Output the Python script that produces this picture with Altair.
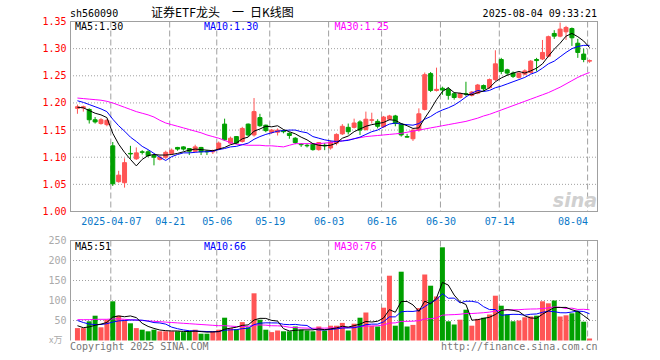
import altair as alt
import pandas as pd

# ---------------- data ----------------
dates = ["03-27", "03-28", "03-31",
         "04-01", "04-02", "04-03", "04-07", "04-08", "04-09", "04-10", "04-11",
         "04-14", "04-15", "04-16", "04-17", "04-18", "04-21", "04-22", "04-23", "04-24", "04-25",
         "04-28", "04-29", "04-30",
         "05-06", "05-07", "05-08", "05-09", "05-12", "05-13", "05-14", "05-15", "05-16",
         "05-19", "05-20", "05-21", "05-22", "05-23", "05-26", "05-27", "05-28", "05-29", "05-30",
         "06-03", "06-04", "06-05", "06-06", "06-09", "06-10", "06-11", "06-12", "06-13",
         "06-16", "06-17", "06-18", "06-19", "06-20", "06-23", "06-24", "06-25", "06-26", "06-27", "06-30",
         "07-01", "07-02", "07-03", "07-04", "07-07", "07-08", "07-09", "07-10", "07-11",
         "07-14", "07-15", "07-16", "07-17", "07-18", "07-21", "07-22", "07-23", "07-24", "07-25",
         "07-28", "07-29", "07-30", "07-31", "08-01", "08-04"]

opens = [1.190, 1.191, 1.188, 1.169, 1.162, 1.160, 1.121, 1.055, 1.053, 1.107,
         1.097, 1.110, 1.110, 1.103, 1.096, 1.100, 1.107, 1.118, 1.119, 1.116,
         1.111, 1.118, 1.111, 1.110, 1.115, 1.161, 1.126, 1.138, 1.129, 1.161,
         1.141, 1.173, 1.159, 1.146, 1.146, 1.149, 1.144, 1.135, 1.124, 1.122,
         1.124, 1.114, 1.122, 1.117, 1.126, 1.143, 1.155, 1.155, 1.165, 1.151,
         1.168, 1.166, 1.156, 1.170, 1.176, 1.161, 1.138, 1.134, 1.150, 1.188,
         1.254, 1.223, 1.227, 1.225, 1.217, 1.210, 1.217, 1.214, 1.218, 1.232,
         1.228, 1.243, 1.280, 1.261, 1.255, 1.247, 1.253, 1.256, 1.280, 1.281,
         1.286, 1.328, 1.323, 1.331, 1.337, 1.310, 1.290, 1.277]
highs = [1.197, 1.195, 1.190, 1.174, 1.172, 1.170, 1.128, 1.075, 1.098, 1.121,
         1.118, 1.113, 1.113, 1.104, 1.103, 1.112, 1.116, 1.119, 1.120, 1.117,
         1.123, 1.119, 1.113, 1.114, 1.129, 1.171, 1.138, 1.139, 1.156, 1.162,
         1.209, 1.180, 1.160, 1.152, 1.153, 1.151, 1.146, 1.137, 1.126, 1.125,
         1.126, 1.128, 1.126, 1.131, 1.144, 1.161, 1.162, 1.171, 1.168, 1.184,
         1.182, 1.170, 1.176, 1.178, 1.178, 1.163, 1.143, 1.151, 1.190, 1.256,
         1.257, 1.265, 1.230, 1.229, 1.220, 1.219, 1.239, 1.222, 1.235, 1.234,
         1.245, 1.297, 1.283, 1.263, 1.258, 1.256, 1.262, 1.279, 1.283, 1.316,
         1.324, 1.334, 1.348, 1.342, 1.339, 1.318, 1.300, 1.280]
lows = [1.180, 1.184, 1.162, 1.162, 1.160, 1.157, 1.047, 1.053, 1.044, 1.097,
        1.095, 1.105, 1.100, 1.085, 1.094, 1.097, 1.104, 1.112, 1.112, 1.104,
        1.110, 1.104, 1.104, 1.106, 1.113, 1.130, 1.124, 1.124, 1.127, 1.138,
        1.138, 1.156, 1.146, 1.143, 1.140, 1.144, 1.134, 1.124, 1.119, 1.118,
        1.112, 1.112, 1.113, 1.114, 1.122, 1.141, 1.142, 1.153, 1.141, 1.149,
        1.162, 1.153, 1.154, 1.168, 1.157, 1.138, 1.136, 1.130, 1.147, 1.186,
        1.220, 1.221, 1.215, 1.206, 1.206, 1.208, 1.212, 1.212, 1.216, 1.222,
        1.226, 1.240, 1.253, 1.250, 1.246, 1.245, 1.251, 1.254, 1.258, 1.279,
        1.284, 1.318, 1.321, 1.316, 1.305, 1.283, 1.275, 1.274]
closes = [1.193, 1.193, 1.169, 1.165, 1.169, 1.168, 1.051, 1.067, 1.090, 1.106,
          1.108, 1.109, 1.103, 1.100, 1.100, 1.109, 1.113, 1.115, 1.115, 1.111,
          1.119, 1.110, 1.110, 1.112, 1.126, 1.132, 1.135, 1.126, 1.153, 1.141,
          1.184, 1.158, 1.149, 1.150, 1.150, 1.147, 1.140, 1.127, 1.123, 1.121,
          1.114, 1.127, 1.121, 1.128, 1.142, 1.157, 1.147, 1.163, 1.150, 1.170,
          1.169, 1.157, 1.174, 1.176, 1.162, 1.141, 1.137, 1.150, 1.180, 1.252,
          1.223, 1.225, 1.224, 1.214, 1.210, 1.217, 1.216, 1.220, 1.233, 1.226,
          1.243, 1.272, 1.258, 1.255, 1.249, 1.255, 1.259, 1.277, 1.278, 1.293,
          1.322, 1.323, 1.336, 1.339, 1.320, 1.293, 1.280, 1.278]

ma5 = [1.192, 1.191, 1.186, 1.181, 1.178, 1.173, 1.144, 1.124, 1.109, 1.096,
       1.084, 1.096, 1.103, 1.105, 1.104, 1.104, 1.105, 1.107, 1.110, 1.113,
       1.115, 1.114, 1.113, 1.112, 1.115, 1.118, 1.123, 1.126, 1.134, 1.137,
       1.148, 1.152, 1.157, 1.156, 1.158, 1.151, 1.147, 1.143, 1.137, 1.132,
       1.125, 1.122, 1.121, 1.122, 1.126, 1.135, 1.139, 1.147, 1.152, 1.157,
       1.160, 1.162, 1.164, 1.169, 1.168, 1.162, 1.158, 1.153, 1.154, 1.172,
       1.188, 1.206, 1.221, 1.228, 1.219, 1.218, 1.216, 1.215, 1.219, 1.222,
       1.228, 1.239, 1.246, 1.251, 1.255, 1.258, 1.255, 1.259, 1.264, 1.272,
       1.286, 1.299, 1.310, 1.323, 1.328, 1.322, 1.314, 1.302]
ma10 = [1.204, 1.201, 1.197, 1.193, 1.189, 1.184, 1.170, 1.158, 1.148, 1.137,
        1.129, 1.120, 1.114, 1.107, 1.100, 1.094, 1.101, 1.105, 1.108, 1.108,
        1.109, 1.110, 1.110, 1.111, 1.114, 1.116, 1.119, 1.120, 1.123, 1.126,
        1.133, 1.138, 1.142, 1.145, 1.148, 1.149, 1.150, 1.150, 1.147, 1.145,
        1.138, 1.135, 1.132, 1.130, 1.129, 1.130, 1.131, 1.134, 1.137, 1.142,
        1.147, 1.150, 1.156, 1.161, 1.163, 1.161, 1.160, 1.159, 1.162, 1.170,
        1.175, 1.182, 1.187, 1.191, 1.196, 1.203, 1.211, 1.218, 1.223, 1.221,
        1.223, 1.228, 1.231, 1.235, 1.239, 1.243, 1.247, 1.253, 1.257, 1.264,
        1.272, 1.277, 1.285, 1.293, 1.300, 1.304, 1.306, 1.306]
ma30 = [1.209, 1.208, 1.207, 1.206, 1.205, 1.203, 1.200, 1.196, 1.192, 1.188,
        1.184, 1.181, 1.178, 1.174, 1.168, 1.163, 1.160, 1.157, 1.154, 1.151,
        1.148, 1.145, 1.141, 1.138, 1.135, 1.131, 1.127, 1.124, 1.123, 1.122,
        1.122, 1.122, 1.121, 1.121, 1.120, 1.119, 1.122, 1.125, 1.125, 1.125,
        1.125, 1.125, 1.126, 1.127, 1.129, 1.130, 1.132, 1.134, 1.136, 1.138,
        1.139, 1.140, 1.141, 1.142, 1.143, 1.144, 1.146, 1.148, 1.150, 1.152,
        1.154, 1.156, 1.158, 1.160, 1.162, 1.164, 1.166, 1.169, 1.172, 1.176,
        1.179, 1.183, 1.187, 1.191, 1.195, 1.199, 1.203, 1.207, 1.211, 1.215,
        1.219, 1.224, 1.229, 1.235, 1.241, 1.247, 1.252, 1.256]

volumes = [31, 31, 48, 62, 33, 52, 98, 62, 52, 43,
           31, 27, 23, 27, 23, 23, 23, 23, 21, 23,
           27, 17, 17, 23, 27, 57, 31, 28, 46, 33,
           118, 52, 27, 21, 25, 23, 23, 35, 27, 25,
           23, 35, 25, 37, 37, 44, 25, 42, 57, 70,
           37, 35, 82, 162, 37, 172, 35, 39, 81, 165,
           137, 110, 233, 48, 40, 52, 77, 37, 54, 57,
           65, 112, 87, 65, 48, 50, 58, 60, 62, 98,
           93, 100, 60, 63, 68, 73, 47, 5]
vma5 = [37, 32, 34, 38, 41, 45.2, 58.6, 61.4, 59.4, 61.4,
        57.2, 43, 35.2, 30.2, 26.2, 24.6, 23.8, 23.8, 22.6, 22.6,
        23.4, 22.2, 21, 21.4, 22.2, 28.2, 31, 33.2, 37.8, 39,
        51.2, 55.4, 55.2, 50.2, 48.6, 29.6, 23.8, 25.4, 26.6, 26.6,
        26.6, 29, 27, 29, 31.4, 35.6, 33.6, 37, 41, 47.6,
        46.2, 48.2, 56.2, 77.2, 70.6, 97.6, 97.6, 89, 72.8, 98.4,
        91.4, 106.4, 145.2, 138.6, 113.6, 96.6, 90, 50.8, 52, 55.4,
        58, 65, 75, 77.2, 75.4, 72.4, 61.6, 56.2, 55.6, 65.6,
        74.2, 82.6, 82.6, 82.8, 76.8, 72.8, 62.2, 51.2]
vma10 = [50, 45, 41, 40, 40, 42, 46, 49, 50, 51.2,
         51.2, 50.8, 48.3, 44.8, 43.8, 40.9, 33.4, 29.5, 26.4, 24.4,
         24, 23, 22.4, 22, 22.4, 25.8, 26.6, 27.1, 29.6, 30.6,
         39.7, 43.2, 44.2, 44, 43.8, 40.4, 39.6, 40.3, 38.4, 37.6,
         28.1, 26.4, 26.2, 27.8, 29, 31.1, 31.3, 32, 35, 39.5,
         40.9, 40.9, 46.6, 59.1, 59.1, 71.9, 72.9, 72.6, 75, 84.5,
         94.5, 102, 117.1, 105.7, 106, 94, 98.2, 98, 95.3, 84.5,
         77.3, 77.5, 62.9, 64.6, 65.4, 65.2, 63.3, 65.6, 66.4, 70.5,
         73.3, 72.1, 69.4, 69.2, 71.2, 73.5, 72.4, 66.9]
vma30 = [52, 52, 52, 53, 53, 53, 54, 54, 53, 52,
         51, 50, 49, 48, 47, 46, 45, 44, 43, 42,
         41, 40, 39, 38, 37, 37, 36, 35, 35, 35.4,
         38.3, 39.0, 38.3, 36.9, 36.7, 35.7, 33.2, 32.3, 31.5, 30.9,
         30.6, 30.9, 30.9, 31.3, 31.7, 32.4, 32.5, 33.1, 34.3, 35.9,
         36.2, 36.8, 39.0, 43.6, 44.0, 47.8, 47.9, 48.3, 49.5, 53.9,
         54.5, 56.4, 63.3, 64.2, 64.7, 65.7, 67.5, 67.5, 68.4, 69.5,
         70.9, 73.5, 75.5, 76.5, 76.8, 77.0, 78.1, 78.7, 78.9, 79.8,
         81.7, 83.9, 83.1, 79.8, 80.9, 77.6, 78.0, 76.8]

tick_dates = ["04-07", "04-21", "05-06", "05-19", "06-03", "06-16", "06-30", "07-14", "08-04"]
tick_labels = ["2025-04-07", "04-21", "05-06", "05-19", "06-03", "06-16", "06-30", "07-14", "08-04"]
price_ticks = [1.00, 1.05, 1.10, 1.15, 1.20, 1.25, 1.30, 1.35]
price_grid = [1.05, 1.10, 1.15, 1.20, 1.25, 1.30]
vol_ticks = [50, 100, 150, 200, 250]
vol_grid = [50, 100, 150, 200]

title_text = "证券ETF龙头\u2003一\u2002日K线图"
code_text = "sh560090"
time_text = "2025-08-04 09:33:21"
price_legend = ["MA5:1.30", "MA10:1.30", "MA30:1.25"]
vol_legend = ["MA5:51", "MA10:66", "MA30:76"]
unit_text = "x万"
copyright_text = "Copyright 2025 SINA.COM"
url_text = "http://finance.sina.com.cn"
logo_text = "sina"

# ---------------- tables ----------------
df = pd.DataFrame({
    "i": list(range(len(dates))), "date": dates,
    "o": opens, "h": highs, "l": lows, "c": closes, "v": volumes,
    "ma5": ma5, "ma10": ma10, "ma30": ma30,
    "vma5": vma5, "vma10": vma10, "vma30": vma30,
})
tick_idx = [dates.index(d) for d in tick_dates]
ticks_df = pd.DataFrame({"i": tick_idx, "lab": tick_labels})
one = alt.Data(values=[{}])

# ---------------- styles ----------------
MONO = "DejaVu Sans Mono"
CJK = "Noto Sans CJK SC"
RED = "#ff5555"
GREEN = "#00a000"
W = 528
H = 320
P_TOP, P_BOT = 0.5, 190.5
V_TOP, V_BOT = 219.5, 319.5
GRID = "#a0a0a0"
FRAME = "#a0a0a0"

xs = alt.Scale(domain=[-2.5 / 6, 88 - 2.5 / 6], nice=False, zero=False)
ps = alt.Scale(domain=[1.00, 1.35], range=[P_BOT, P_TOP], nice=False, zero=False)
vs = alt.Scale(domain=[0, 250], range=[V_BOT, V_TOP], nice=False)

label_expr = ("[" + ",".join("'%s'" % t for t in tick_labels) + "][indexof(["
              + ",".join(str(t) for t in tick_idx) + "], round(datum.value))]")
X_AXIS = alt.Axis(values=[t - 1 / 3 for t in tick_idx], labelExpr=label_expr,
                  ticks=False, domain=False, grid=False, labelPadding=5,
                  labelColor="#0a78c8", labelFont=MONO, labelFontSize=10,
                  labelFlush=False, labelOverlap=False, labelBound=False,
                  offset=-(H - P_BOT), title=None,
                  labelAlign={"condition": {"test": "datum.value > 80", "value": "right"},
                              "value": "center"})
PY_AXIS = alt.Axis(values=price_ticks, format=".2f", ticks=False, domain=False, grid=False,
                   labelColor="#ff0000", labelFont=MONO, labelFontSize=10, labelPadding=4,
                   labelFlush=False, labelOverlap=False, orient="left", title=None)
VY_AXIS = alt.Axis(values=vol_ticks, format="d", ticks=False, domain=False, grid=False,
                   labelColor="#aaaaaa", labelFont=MONO, labelFontSize=10, labelPadding=4,
                   labelFlush=False, labelOverlap=False, orient="left", title=None)

X = alt.X("i:Q", scale=xs, axis=X_AXIS)
up = "datum.c >= datum.o"
col = alt.condition(up, alt.value(RED), alt.value(GREEN))


def frame_h(y):
    return alt.Chart(one).mark_rule(color=FRAME, strokeWidth=1).encode(
        x=alt.value(0), x2=alt.value(W), y=alt.value(y))


def frame_v(x, y1, y2):
    return alt.Chart(one).mark_rule(color=FRAME, strokeWidth=1).encode(
        x=alt.value(x), y=alt.value(y1), y2=alt.value(y2))


def label(txt, x, y, color="#000000", size=10, font=MONO, align="left", **kw):
    return alt.Chart(one).mark_text(text=txt, align=align, baseline="alphabetic",
                                    font=font, fontSize=size, color=color, **kw).encode(
        x=alt.value(x), y=alt.value(y))


base = alt.Chart(df)

# ---------------- price panel ----------------
p_hgrid = alt.Chart(pd.DataFrame({"p": price_grid})).mark_rule(
    color=GRID, strokeDash=[1, 2], strokeWidth=1).encode(
    y=alt.Y("p:Q", scale=ps, axis=PY_AXIS), x=alt.value(0), x2=alt.value(W))
p_vgrid = alt.Chart(ticks_df).transform_calculate(gx="datum.i - 1/3").mark_rule(
    color=GRID, strokeDash=[6, 3], strokeWidth=1).encode(
    x=alt.X("gx:Q", scale=xs, axis=X_AXIS), y=alt.value(P_TOP), y2=alt.value(P_BOT))
wicks = base.mark_rule(strokeWidth=1).encode(
    x=X, y=alt.Y("l:Q", scale=ps, axis=PY_AXIS), y2="h:Q", color=col)
bodies = base.mark_bar(size=4, strokeWidth=1).encode(
    x=X, y=alt.Y("o:Q", scale=ps, axis=PY_AXIS), y2="c:Q", fill=col, stroke=col)
p_lines = [base.mark_line(strokeWidth=1, color=c).encode(
    x=X, y=alt.Y(f + ":Q", scale=ps, axis=PY_AXIS))
    for f, c in [("ma30", "#ff00ff"), ("ma10", "#0000ff"), ("ma5", "#000000")]]
price = alt.layer(p_hgrid, p_vgrid, wicks, bodies, *p_lines,
                  frame_h(P_TOP), frame_h(P_BOT),
                  frame_v(0.5, P_TOP, P_BOT), frame_v(W - 0.5, P_TOP, P_BOT))

# ---------------- volume panel ----------------
v_hgrid = alt.Chart(pd.DataFrame({"q": vol_grid})).mark_rule(
    color=GRID, strokeDash=[1, 2], strokeWidth=1).encode(
    y=alt.Y("q:Q", scale=vs, axis=VY_AXIS), x=alt.value(0), x2=alt.value(W))
v_vgrid = alt.Chart(ticks_df).transform_calculate(gx="datum.i - 1/3").mark_rule(
    color=GRID, strokeDash=[6, 3], strokeWidth=1).encode(
    x=alt.X("gx:Q", scale=xs, axis=X_AXIS), y=alt.value(V_TOP), y2=alt.value(V_BOT))
vbars = base.mark_bar(size=5).encode(
    x=X, y=alt.Y("v:Q", scale=vs, axis=VY_AXIS), fill=col)
v_lines = [base.mark_line(strokeWidth=1, color=c).encode(
    x=X, y=alt.Y(f + ":Q", scale=vs, axis=VY_AXIS))
    for f, c in [("vma30", "#ff00ff"), ("vma10", "#0000ff"), ("vma5", "#000000")]]
volume = alt.layer(v_hgrid, v_vgrid, vbars, *v_lines,
                   frame_h(V_TOP), frame_v(0.5, V_TOP, V_BOT), frame_v(W - 0.5, V_TOP, V_BOT))

# ---------------- texts ----------------
texts = [
    label(code_text, 0, -4.3),
    label(title_text, 81, -3.6, font=CJK, size=12),
    label(time_text, 527, -4.3, align="right"),
    label(price_legend[0], 5, 8.5, "#000000"),
    label(price_legend[1], 134, 8.5, "#0000ff"),
    label(price_legend[2], 264.5, 8.5, "#ff00ff"),
    label(vol_legend[0], 5, 229, "#000000"),
    label(vol_legend[1], 134, 229, "#0000ff"),
    label(vol_legend[2], 264.5, 229, "#ff00ff"),
    label(unit_text, -21, 322, "#aaaaaa", size=9, font=CJK),
    label(copyright_text, 0, 328.5, "#777777"),
    label(url_text, 527.5, 328.5, "#777777", align="right"),
    label(logo_text, 527, 186, "#d0d0d0", size=19, font="DejaVu Sans",
          align="right", fontWeight="bold", fontStyle="italic"),
]

chart = alt.layer(price, volume, *texts).resolve_scale(y="independent").properties(
    width=W, height=H,
    autosize=alt.AutoSizeParams(type="none"),
    padding={"left": 70, "top": 21, "right": 62, "bottom": 19},
    background="#ffffff",
).configure_view(stroke=None)

chart.save("out.html", embed_options={"renderer": "svg", "actions": False})
